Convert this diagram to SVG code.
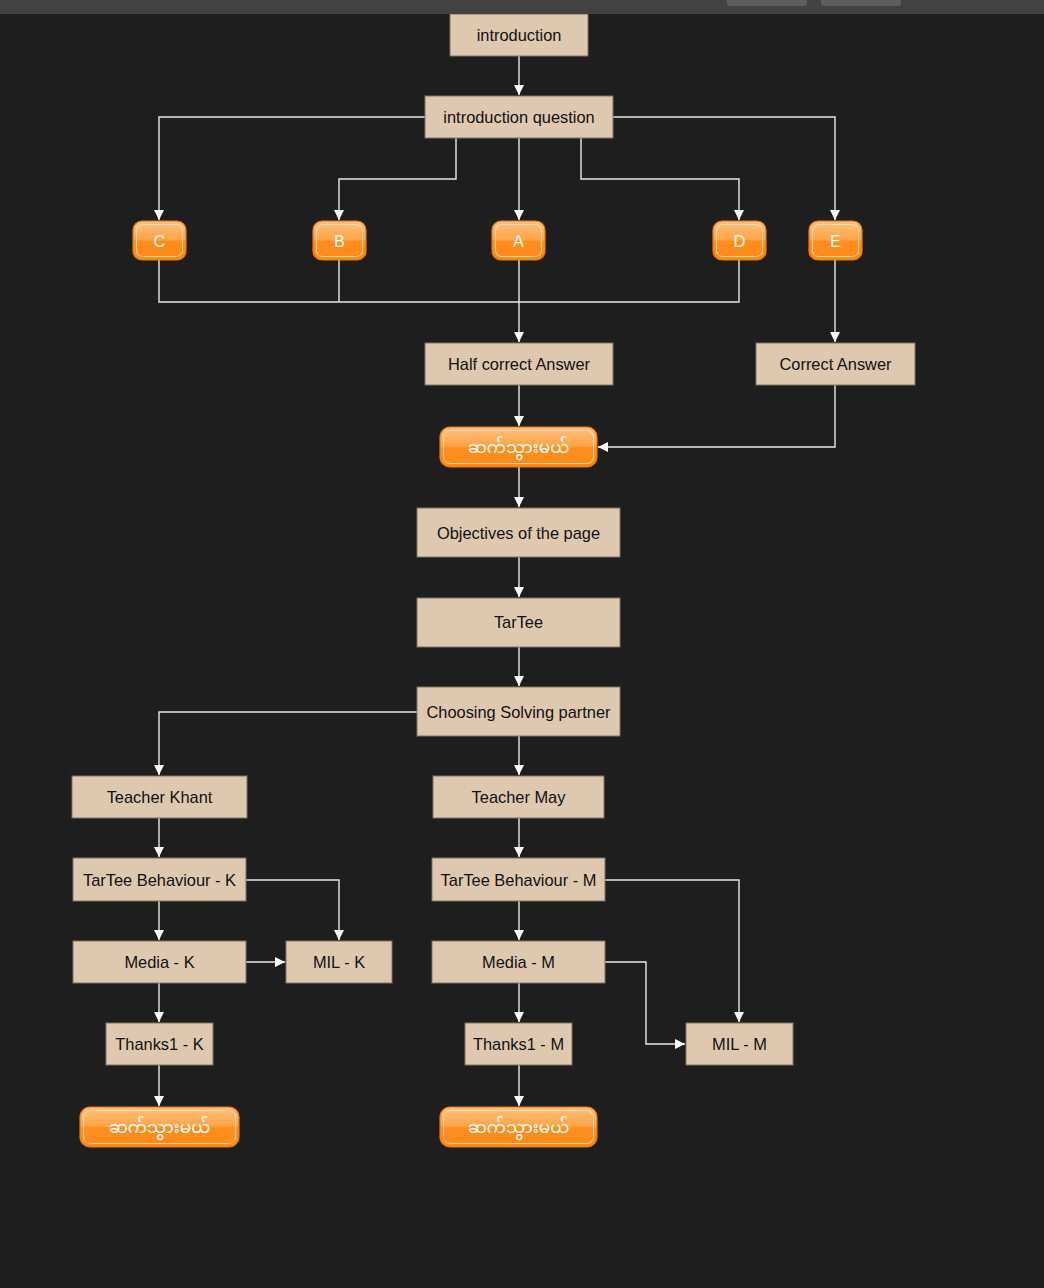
<svg xmlns="http://www.w3.org/2000/svg" width="1044" height="1288" viewBox="0 0 1044 1288">
<defs>
<style>
.box{fill:#dfc8b0;stroke:#7d7266;stroke-width:1}
.t{font-family:"Liberation Sans",Arial,sans-serif;font-size:16.4px;fill:#111;text-anchor:middle}
.bt{font-family:"Liberation Sans",Arial,sans-serif;font-size:16.4px;fill:#fff;text-anchor:middle}
.mt{font-family:"Noto Sans Myanmar","Padauk","Myanmar Text","Noto Sans",sans-serif;font-size:17px;fill:#fff;text-anchor:middle}
.btn{fill:url(#og);stroke:#e87812;stroke-width:1.2}
.inner{fill:none;stroke:#ffe2c0;stroke-width:1;opacity:0.85}
.c{fill:none;stroke:#e8e8e8;stroke-width:1.4;marker-end:url(#ah)}
.cn{fill:none;stroke:#e8e8e8;stroke-width:1.4}
</style>
<linearGradient id="og" x1="0" y1="0" x2="0" y2="1">
<stop offset="0" stop-color="#ffc080"/>
<stop offset="0.48" stop-color="#ffa445"/>
<stop offset="0.52" stop-color="#ff8e20"/>
<stop offset="1" stop-color="#ff8a18"/>
</linearGradient>
<marker id="ah" markerUnits="userSpaceOnUse" markerWidth="12" markerHeight="12" refX="10" refY="5" orient="auto">
<path d="M0,0 L10,5 L0,10 z" fill="#ffffff"/>
</marker>
</defs>
<rect x="0" y="0" width="1044" height="1288" fill="#1e1e1e"/>

<g id="connectors">
<path class="c" d="M519,56 V95"/>
<path class="c" d="M425,117 H159 V220"/>
<path class="c" d="M456,138 V179 H339 V220"/>
<path class="c" d="M519,138 V220"/>
<path class="c" d="M581,138 V179 H739 V220"/>
<path class="c" d="M613,117 H835 V220"/>
<path class="cn" d="M159,260 V302 H739 V260"/>
<path class="cn" d="M339,260 V302"/>
<path class="c" d="M519,260 V342"/>
<path class="c" d="M835,260 V342"/>
<path class="c" d="M519,385 V426"/>
<path class="c" d="M835,385 V447 H598"/>
<path class="c" d="M519,467 V507"/>
<path class="c" d="M519,557 V597"/>
<path class="c" d="M519,647 V686"/>
<path class="c" d="M417,712 H159 V775"/>
<path class="c" d="M519,736 V775"/>
<path class="c" d="M159,818 V857"/>
<path class="c" d="M246,880 H339 V940"/>
<path class="c" d="M159,901 V940"/>
<path class="c" d="M246,962 H285"/>
<path class="c" d="M159,983 V1022"/>
<path class="c" d="M159,1065 V1106"/>
<path class="c" d="M519,818 V857"/>
<path class="c" d="M605,880 H739 V1022"/>
<path class="c" d="M519,901 V940"/>
<path class="c" d="M605,962 H646 V1044 H685"/>
<path class="c" d="M519,983 V1022"/>
<path class="c" d="M519,1065 V1106"/>
</g>

<g id="n-introduction"><rect class="box" x="450" y="14" width="138" height="42"/><text class="t" x="519" y="41">introduction</text></g>
<g id="n-intro-question"><rect class="box" x="425" y="96" width="188" height="42"/><text class="t" x="519" y="123">introduction question</text></g>

<g id="n-c"><rect class="btn" x="133" y="221" width="53" height="39" rx="9"/><rect class="inner" x="136.5" y="224.5" width="46" height="32" rx="6"/><text class="bt" x="159.5" y="247">C</text></g>
<g id="n-b"><rect class="btn" x="313" y="221" width="53" height="39" rx="9"/><rect class="inner" x="316.5" y="224.5" width="46" height="32" rx="6"/><text class="bt" x="339.5" y="247">B</text></g>
<g id="n-a"><rect class="btn" x="492" y="221" width="53" height="39" rx="9"/><rect class="inner" x="495.5" y="224.5" width="46" height="32" rx="6"/><text class="bt" x="518.5" y="247">A</text></g>
<g id="n-d"><rect class="btn" x="713" y="221" width="53" height="39" rx="9"/><rect class="inner" x="716.5" y="224.5" width="46" height="32" rx="6"/><text class="bt" x="739.5" y="247">D</text></g>
<g id="n-e"><rect class="btn" x="809" y="221" width="53" height="39" rx="9"/><rect class="inner" x="812.5" y="224.5" width="46" height="32" rx="6"/><text class="bt" x="835.5" y="247">E</text></g>

<g id="n-half"><rect class="box" x="425" y="343" width="188" height="42"/><text class="t" x="519" y="370">Half correct Answer</text></g>
<g id="n-correct"><rect class="box" x="756" y="343" width="159" height="42"/><text class="t" x="835.5" y="370">Correct Answer</text></g>

<g id="n-go1"><rect class="btn" x="440" y="427" width="157" height="40" rx="10"/><rect class="inner" x="443.5" y="430.5" width="150" height="33" rx="7"/><text class="mt" x="518.5" y="453">ဆက်သွားမယ်</text></g>

<g id="n-objectives"><rect class="box" x="417" y="508" width="203" height="49"/><text class="t" x="518.5" y="539">Objectives of the page</text></g>
<g id="n-tartee"><rect class="box" x="417" y="598" width="203" height="49"/><text class="t" x="518.5" y="628">TarTee</text></g>
<g id="n-choosing"><rect class="box" x="417" y="687" width="203" height="49"/><text class="t" x="518.5" y="718">Choosing Solving partner</text></g>

<g id="n-teacher-khant"><rect class="box" x="72" y="776" width="175" height="42"/><text class="t" x="159.5" y="803">Teacher Khant</text></g>
<g id="n-teacher-may"><rect class="box" x="433" y="776" width="171" height="42"/><text class="t" x="518.5" y="803">Teacher May</text></g>

<g id="n-tb-k"><rect class="box" x="73" y="858" width="173" height="43"/><text class="t" x="159.5" y="886">TarTee Behaviour - K</text></g>
<g id="n-tb-m"><rect class="box" x="432" y="858" width="173" height="43"/><text class="t" x="518.5" y="886">TarTee Behaviour - M</text></g>

<g id="n-media-k"><rect class="box" x="73" y="941" width="173" height="42"/><text class="t" x="159.5" y="968">Media - K</text></g>
<g id="n-mil-k"><rect class="box" x="286" y="941" width="106" height="42"/><text class="t" x="339" y="968">MIL - K</text></g>
<g id="n-media-m"><rect class="box" x="432" y="941" width="173" height="42"/><text class="t" x="518.5" y="968">Media - M</text></g>
<g id="n-mil-m"><rect class="box" x="686" y="1023" width="107" height="42"/><text class="t" x="739.5" y="1050">MIL - M</text></g>

<g id="n-thanks-k"><rect class="box" x="106" y="1023" width="107" height="42"/><text class="t" x="159.5" y="1050">Thanks1 - K</text></g>
<g id="n-thanks-m"><rect class="box" x="465" y="1023" width="107" height="42"/><text class="t" x="518.5" y="1050">Thanks1 - M</text></g>

<g id="n-go-k"><rect class="btn" x="80" y="1107" width="159" height="40" rx="10"/><rect class="inner" x="83.5" y="1110.5" width="152" height="33" rx="7"/><text class="mt" x="159.5" y="1133">ဆက်သွားမယ်</text></g>
<g id="n-go-m"><rect class="btn" x="440" y="1107" width="157" height="40" rx="10"/><rect class="inner" x="443.5" y="1110.5" width="150" height="33" rx="7"/><text class="mt" x="518.5" y="1133">ဆက်သွားမယ်</text></g>

<g id="topbar">
<rect x="0" y="0" width="1044" height="14" fill="#424242"/>
<rect x="727" y="-4" width="80" height="10" rx="3" fill="#5e5e5e"/>
<rect x="821" y="-4" width="80" height="10" rx="3" fill="#5e5e5e"/>
</g>
</svg>
